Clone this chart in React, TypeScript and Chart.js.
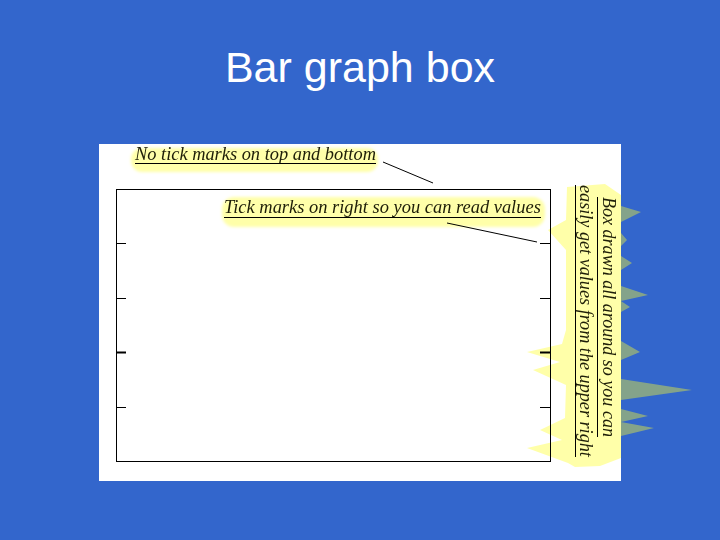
import React, { useEffect, useRef } from 'react';
import { Chart } from 'chart.js/auto';

// an empty "box" chart: no bars, only the frame and its tick marks
const categories: string[] = [];
const values: number[] = [];
const yMin = 0;
const yMax = 5;
const yStep = 1;
const thickTickValue = 2;

const titleText = 'Bar graph box';
const noteTop = 'No tick marks on top and bottom';
const noteRight = 'Tick marks on right so you can read values';
const noteBoxA = 'Box drawn all around so you can';
const noteBoxB = 'easily get values from the upper right';

const SERIF = "'Liberation Serif', 'DejaVu Serif', serif";
const HILITE = 'rgba(255, 255, 40, 0.4)';

// spiky highlight behind the vertical note
const bandPoints: [number, number][] = [
  [567, 187], [605, 184], [621, 195], [621, 206], [641, 212], [621, 222],
  [621, 233], [627, 240], [621, 246], [621, 256], [632, 263], [621, 270],
  [621, 286], [648, 295], [621, 301], [630, 307], [621, 312], [621, 341],
  [640, 352], [621, 360], [621, 379], [692, 390], [621, 400], [621, 409],
  [648, 416], [621, 422], [654, 428], [621, 436], [621, 458], [600, 466],
  [575, 467], [568, 463], [527, 448], [562, 440], [540, 430], [565, 418],
  [566, 385], [533, 370], [560, 362], [527, 352], [562, 344], [566, 330],
  [566, 250], [548, 230], [566, 220],
];

function fitFont(ctx: CanvasRenderingContext2D, text: string, width: number) {
  ctx.font = `italic 20px ${SERIF}`;
  const w = ctx.measureText(text).width;
  ctx.font = `italic ${(20 * width) / w}px ${SERIF}`;
}

const highlights = {
  id: 'highlights',
  beforeDraw(chart: Chart) {
    const { ctx } = chart;
    ctx.save();
    ctx.fillStyle = HILITE;
    ctx.filter = 'blur(1.5px)';
    ctx.beginPath();
    ctx.roundRect(131, 148, 247, 24, 11);
    ctx.fill();
    ctx.beginPath();
    ctx.roundRect(222, 197, 323, 30, 12);
    ctx.fill();
    ctx.filter = 'none';
    ctx.beginPath();
    bandPoints.forEach(([x, y], i) => (i ? ctx.lineTo(x, y) : ctx.moveTo(x, y)));
    ctx.closePath();
    ctx.fill();
    ctx.restore();
  },
};

const innerTicks = {
  id: 'innerTicks',
  afterDraw(chart: Chart) {
    const { ctx, chartArea } = chart;
    ctx.save();
    ctx.strokeStyle = '#000';
    ['y', 'y2'].forEach((id) => {
      const s: any = chart.scales[id];
      const left = s.position === 'left';
      const x0 = left ? chartArea.left : chartArea.right;
      const x1 = left ? x0 + 10 : x0 - 10;
      s.ticks.forEach((t: any) => {
        if (t.value <= s.min || t.value >= s.max) return;
        const y = Math.round(s.getPixelForValue(t.value)) + 0.5;
        ctx.lineWidth = t.value === thickTickValue ? 2 : 1;
        ctx.beginPath();
        ctx.moveTo(x0, y);
        ctx.lineTo(x1, y);
        ctx.stroke();
      });
    });
    ctx.restore();
  },
};

const notes = {
  id: 'notes',
  afterDraw(chart: Chart) {
    const { ctx } = chart;
    ctx.save();
    ctx.fillStyle = '#1e1e08';
    ctx.strokeStyle = '#000';
    ctx.lineWidth = 1;
    ctx.textBaseline = 'alphabetic';
    ctx.textAlign = 'left';

    fitFont(ctx, noteTop, 241);
    ctx.fillText(noteTop, 135, 160);
    ctx.beginPath();
    ctx.moveTo(135, 163.5);
    ctx.lineTo(376, 163.5);
    ctx.moveTo(383, 162);
    ctx.lineTo(433, 183);
    ctx.stroke();

    fitFont(ctx, noteRight, 317);
    ctx.fillText(noteRight, 224, 213);
    ctx.beginPath();
    ctx.moveTo(224, 217.5);
    ctx.lineTo(541, 217.5);
    ctx.moveTo(447, 223);
    ctx.lineTo(537, 242);
    ctx.stroke();

    const vertical = (text: string, x: number, y: number, len: number, ul: number) => {
      ctx.save();
      ctx.translate(x, y);
      ctx.rotate(Math.PI / 2);
      fitFont(ctx, text, len);
      ctx.fillText(text, 0, 0);
      ctx.beginPath();
      ctx.moveTo(0, ul);
      ctx.lineTo(len, ul);
      ctx.stroke();
      ctx.restore();
    };
    vertical(noteBoxA, 603, 197, 240, 5.5);
    vertical(noteBoxB, 580, 185, 272, 4.5);
    ctx.restore();
  },
};

const frameAxis = (position: string) => ({
  position,
  ticks: { display: false },
  grid: { display: false, drawTicks: false },
  border: { display: true, color: '#000', width: 1 },
});

const App: React.FC = () => {
  const chartRef = useRef<HTMLCanvasElement>(null);

  useEffect(() => {
    const ctx = chartRef.current?.getContext('2d');
    if (!ctx) {
      return;
    }
    const chart = new Chart(ctx, {
      type: 'bar',
      data: {
        labels: categories,
        datasets: [{ label: 'Values', data: values, backgroundColor: '#888' }],
      },
      options: {
        responsive: false,
        animation: false,
        layout: { padding: { left: 116, top: 189, right: 170, bottom: 79 } },
        plugins: {
          legend: { display: false },
          title: { display: false },
          tooltip: { enabled: false },
        },
        scales: {
          x: { type: 'linear', min: 0, max: 1, ...frameAxis('bottom') },
          x2: { type: 'linear', min: 0, max: 1, ...frameAxis('top') },
          y: { type: 'linear', min: yMin, max: yMax, ...frameAxis('left'), ticks: { display: false, stepSize: yStep } },
          y2: { type: 'linear', min: yMin, max: yMax, ...frameAxis('right'), ticks: { display: false, stepSize: yStep } },
        } as any,
      },
      plugins: [highlights, innerTicks, notes],
    });
    return () => {
      chart.destroy();
    };
  }, []);

  return (
    <div style={{ position: 'absolute', left: 0, top: 0, width: 720, height: 540, background: '#3366cc', overflow: 'hidden' }}>
      <div
        style={{
          position: 'absolute',
          left: 0,
          top: 46,
          width: 720,
          textAlign: 'center',
          color: '#fff',
          font: "43px/43px 'Liberation Sans', Arial, sans-serif",
        }}
      >
        {titleText}
      </div>
      <div style={{ position: 'absolute', left: 99, top: 144, width: 522, height: 337, background: '#fff' }} />
      <canvas ref={chartRef} width={720} height={540} style={{ position: 'absolute', left: 0, top: 0 }}></canvas>
    </div>
  );
};

export default App;
